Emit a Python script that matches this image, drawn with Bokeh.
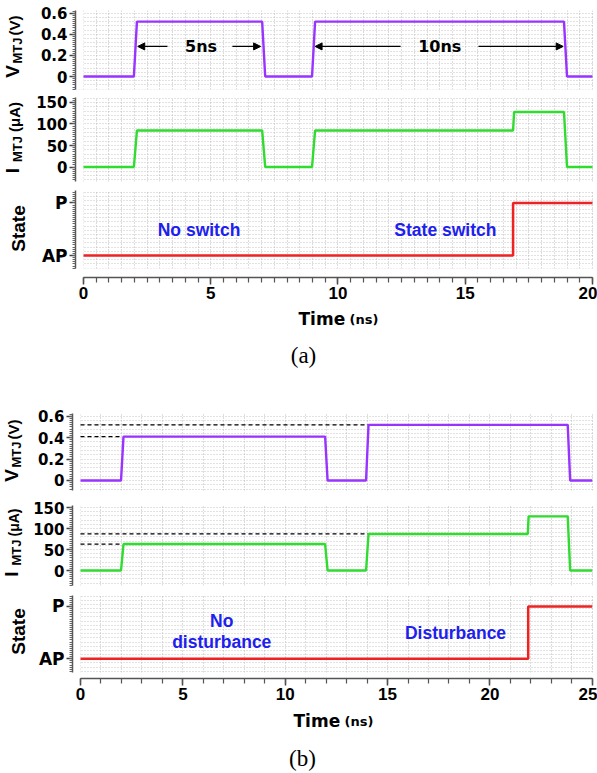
import numpy as np
from bokeh.plotting import figure
from bokeh.layouts import column, row
from bokeh.models import (SingleIntervalTicker, FixedTicker, Grid, BoxAnnotation, Label,
                          Arrow, NormalHead, Range1d, ColumnDataSource)
from bokeh.embed import file_html
from bokeh.resources import INLINE

# ---------------- data: panel (a) ----------------
ta_v = [0, 1.98, 2.10, 7.02, 7.14, 8.98, 9.10, 18.88, 19.00, 20]
va = [0, 0, 0.52, 0.52, 0, 0, 0.52, 0.52, 0, 0]
ta_i = [0, 1.98, 2.10, 7.02, 7.14, 8.98, 9.10, 16.88, 16.92, 18.88, 19.00, 20]
ia = [0, 0, 85, 85, 0, 0, 85, 85, 128, 128, 0, 0]
ta_s = [0, 16.88, 16.88, 20]
sa = [0, 0, 1, 1]

# ---------------- data: panel (b) ----------------
tb_v = [0, 1.98, 2.10, 11.95, 12.07, 13.95, 14.07, 23.80, 23.92, 25]
vb = [0, 0, 0.41, 0.41, 0, 0, 0.52, 0.52, 0, 0]
tb_i = [0, 1.98, 2.10, 11.95, 12.07, 13.95, 14.07, 21.85, 21.89, 23.80, 23.92, 25]
ib = [0, 0, 63, 63, 0, 0, 87, 87, 129, 129, 0, 0]
tb_s = [0, 21.87, 21.87, 25]
sb = [0, 0, 1, 1]

# reference (dashed) levels in (b): end times and levels
dash_t_end = [2.04, 14.07]
dash_v = [0.41, 0.52]
dash_i = [63, 87]

# pulse-width arrows in (a)
arr_x0 = [3.30, 5.85, 12.46, 15.52]
arr_x1 = [2.13, 6.96, 9.10, 18.85]
arr_y = 0.285
arr_text = ["5ns", "10ns"]
arr_text_x = [4.62, 14.0]

state_labels = {0: "AP", 1: "P"}

PURPLE = "#9933ff"
GREEN = "#2fdc2f"
RED = "#ee2222"
BLUE = "#2020ee"
BOLD_SANS = "Liberation Sans"
WIDE_SANS = "DejaVu Sans"


def base_fig(xr, yr, fw, fh, left, top, bottom, show_x):
    p = figure(x_range=Range1d(*xr), y_range=Range1d(*yr), frame_width=fw, frame_height=fh,
               min_border_left=left, min_border_right=4, min_border_top=top,
               min_border_bottom=bottom, toolbar_location=None, output_backend="svg",
               x_axis_location="below" if show_x else None, outline_line_color=None,
               background_fill_color="white", border_fill_color="white")
    p.grid.visible = False
    return p


def blank_fig(w, h, top=0, bottom=0):
    # plain pixel canvas: x from left, y from frame bottom
    f = figure(frame_width=w, frame_height=h, min_border_left=0, min_border_right=0,
               min_border_top=top, min_border_bottom=bottom, toolbar_location=None,
               output_backend="svg", x_axis_location=None, y_axis_location=None,
               x_range=Range1d(0, w), y_range=Range1d(0, h),
               outline_line_color=None, background_fill_color="white",
               border_fill_color="white")
    f.grid.visible = False
    return f


def add_grid(p, xint, yint, ybot=None):
    p.add_layout(Grid(dimension=0, ticker=SingleIntervalTicker(interval=xint),
                      grid_line_color="#aaaaaa", grid_line_dash="1 2", grid_line_width=1,
                      grid_line_alpha=0.8))
    p.add_layout(Grid(dimension=1, ticker=SingleIntervalTicker(interval=yint),
                      grid_line_color="#b8b8b8", grid_line_dash="1 2", grid_line_width=1,
                      grid_line_alpha=0.8))
    p.add_layout(BoxAnnotation(right=0, fill_color="white", fill_alpha=1.0,
                               line_alpha=0, level="underlay"))
    if ybot is not None:
        p.add_layout(BoxAnnotation(top=ybot, fill_color="white", fill_alpha=1.0,
                                   line_alpha=0, level="underlay"))


def style_yaxis(p, ticker, font=WIDE_SANS, size="15px", bounds=None):
    ax = p.yaxis[0]
    ax.ticker = ticker
    ax.axis_line_color = "#555555"
    ax.axis_line_width = 1.5
    ax.major_tick_out = 6
    ax.major_tick_in = 0
    ax.minor_tick_out = 3
    ax.minor_tick_in = 0
    ax.major_tick_line_color = "#444444"
    ax.major_tick_line_width = 1.5
    ax.minor_tick_line_color = "#666666"
    ax.major_label_standoff = 2
    ax.major_label_text_font = font
    ax.major_label_text_font_style = "bold"
    ax.major_label_text_font_size = size
    ax.major_label_text_color = "black"
    if bounds is not None:
        ax.bounds = bounds


def style_xaxis(p, ticker, bounds):
    ax = p.xaxis[0]
    ax.ticker = ticker
    ax.bounds = bounds
    ax.axis_line_color = "#555555"
    ax.axis_line_width = 1.5
    ax.major_tick_out = 7
    ax.major_tick_in = 0
    ax.minor_tick_out = 5
    ax.minor_tick_in = 0
    ax.major_tick_line_color = "#444444"
    ax.major_tick_line_width = 1.5
    ax.minor_tick_line_color = "#555555"
    ax.minor_tick_line_width = 1.2
    ax.major_label_standoff = 2
    ax.major_label_text_font = BOLD_SANS
    ax.major_label_text_font_style = "bold"
    ax.major_label_text_font_size = "17px"
    ax.major_label_text_color = "black"


def rot_label(f, text, x, y, size):
    f.add_layout(Label(x=x, y=y, text=text, angle=np.pi / 2, text_align="center",
                       text_baseline="middle", text_font=BOLD_SANS,
                       text_font_style="bold", text_font_size=size, text_color="black"))


def title_fig(fh, top, bottom, big, unit, unit_size, xs, ys):
    # same vertical borders as the plot next to it, so that the frames line up
    f = blank_fig(30, fh, top, bottom)
    rot_label(f, big, xs[0], ys[0], "19px")
    rot_label(f, "MTJ", xs[1], ys[1], "13px")
    rot_label(f, unit, xs[2], ys[2], unit_size)
    return f


def state_fig(fh, top, bottom, x, y):
    f = blank_fig(30, fh, top, bottom)
    rot_label(f, "State", x, y, "19px")
    return f


def caption_fig(h, x, y_top, tag, tagx, tag_top):
    f = blank_fig(597, h)
    f.add_layout(Label(x=x, y=h - y_top, text="Time", text_align="left",
                       text_baseline="middle", text_font=WIDE_SANS,
                       text_font_style="bold", text_font_size="17px", text_color="black"))
    f.add_layout(Label(x=x + 51, y=h - y_top - 1, text="(ns)", text_align="left",
                       text_baseline="middle", text_font=WIDE_SANS,
                       text_font_style="bold", text_font_size="13px", text_color="black"))
    f.add_layout(Label(x=tagx, y=h - tag_top, text=tag, text_align="center",
                       text_baseline="middle", text_font="Liberation Serif",
                       text_font_size="23px", text_color="black"))
    return f


def blue_text(p, x, y, text):
    p.add_layout(Label(x=x, y=y, text=text, text_align="center", text_baseline="middle",
                       text_font=BOLD_SANS, text_font_style="bold", text_font_size="17.5px",
                       text_color=BLUE))


def sep(color):
    s = figure(frame_width=592, frame_height=2, min_border=0, toolbar_location=None,
               output_backend="svg", x_axis_location=None, y_axis_location=None,
               outline_line_color=None, background_fill_color=color, border_fill_color=color)
    s.grid.visible = False
    return s


# ---------------- panel (a) ----------------
XA = (-0.3143, 20.04)
va_fig = base_fig(XA, (-0.1232, 0.6256), 518, 79, 45, 10, 2, False)
add_grid(va_fig, 0.5, 0.04)
style_yaxis(va_fig, SingleIntervalTicker(interval=0.2, num_minor_ticks=10))
va_fig.line(ta_v, va, line_color=PURPLE, line_width=2.4)
src = ColumnDataSource(dict(x0=arr_x0, x1=arr_x1, y=[arr_y] * len(arr_x0)))
va_fig.add_layout(Arrow(end=NormalHead(size=7, fill_color="black", line_color="black"),
                        source=src, x_start="x0", y_start="y", x_end="x1", y_end="y",
                        line_color="black", line_width=1.2))
for t, x in zip(arr_text, arr_text_x):
    va_fig.add_layout(Label(x=x, y=arr_y, text=t, text_align="center", text_baseline="middle",
                            text_font=WIDE_SANS, text_font_style="bold", text_font_size="16px",
                            text_color="black"))
row_va = row(title_fig(79, 10, 2, "V", "(V)", "15px", [12.3, 16.5, 14.1], [18, 39, 64]),
             va_fig)

ia_fig = base_fig(XA, (-33.7, 161.6), 518, 84, 45, 4, 2, False)
add_grid(ia_fig, 0.5, 10)
style_yaxis(ia_fig, SingleIntervalTicker(interval=50, num_minor_ticks=10))
ia_fig.line(ta_i, ia, line_color=GREEN, line_width=2.4)
row_ia = row(title_fig(84, 4, 2, "I", "(μA)", "15px", [12.3, 16.5, 14.1], [11, 32.5, 64.5]),
             ia_fig)

sa_fig = base_fig(XA, (-0.419, 1.238), 518, 87, 45, 5, 30, True)
add_grid(sa_fig, 0.5, 0.08, ybot=-0.248)
style_yaxis(sa_fig, FixedTicker(ticks=[0, 1], minor_ticks=list(np.arange(-0.24, 1.24, 0.04))),
            size="17px", bounds=(-0.248, 1.238))
sa_fig.yaxis[0].major_label_overrides = state_labels
style_xaxis(sa_fig, SingleIntervalTicker(interval=5, num_minor_ticks=10), (0, 20))
sa_fig.line(ta_s, sa, line_color=RED, line_width=2.5)
blue_text(sa_fig, 4.54, 0.49, "No switch")
blue_text(sa_fig, 14.22, 0.495, "State switch")
row_sa = row(state_fig(87, 5, 30, 18.3, 49), sa_fig)

cap_a = caption_fig(68, 298, 11, "(a)", 303, 48)

# ---------------- panel (b) ----------------
XB = (-0.3908, 25.06)
vb_fig = base_fig(XB, (-0.0935, 0.626), 521, 77, 42, 38, 4, False)
add_grid(vb_fig, 1, 0.04)
style_yaxis(vb_fig, SingleIntervalTicker(interval=0.2, num_minor_ticks=10))
for te, lv in zip(dash_t_end, dash_v):
    vb_fig.line([0, te], [lv, lv], line_color="black", line_width=1.3, line_dash="4 3")
vb_fig.line(tb_v, vb, line_color=PURPLE, line_width=2.4)
row_vb = row(title_fig(77, 38, 4, "V", "(V)", "15px", [11.3, 15.5, 13.1], [15, 36, 61]),
             vb_fig)

ib_fig = base_fig(XB, (-35.7, 154.8), 521, 80, 42, 9, 2, False)
add_grid(ib_fig, 1, 10)
style_yaxis(ib_fig, SingleIntervalTicker(interval=50, num_minor_ticks=10))
for te, lv in zip(dash_t_end, dash_i):
    ib_fig.line([0, te], [lv, lv], line_color="black", line_width=1.3, line_dash="4 3")
ib_fig.line(tb_i, ib, line_color=GREEN, line_width=2.4)
row_ib = row(title_fig(80, 9, 2, "I", "(μA)", "14px", [11.3, 15.5, 13.1], [11.5, 33, 63]),
             ib_fig)

sb_fig = base_fig(XB, (-0.377, 1.21), 521, 83, 42, 6, 30, True)
add_grid(sb_fig, 1, 0.08, ybot=-0.262)
style_yaxis(sb_fig, FixedTicker(ticks=[0, 1], minor_ticks=list(np.arange(-0.24, 1.21, 0.04))),
            size="17px", bounds=(-0.262, 1.21))
sb_fig.yaxis[0].major_label_overrides = state_labels
style_xaxis(sb_fig, SingleIntervalTicker(interval=5, num_minor_ticks=5), (0, 25))
sb_fig.line(tb_s, sb, line_color=RED, line_width=2.5)
blue_text(sb_fig, 6.9, 0.73, "No")
blue_text(sb_fig, 6.9, 0.33, "disturbance")
blue_text(sb_fig, 18.32, 0.50, "Disturbance")
row_sb = row(state_fig(83, 6, 30, 18.3, 47), sb_fig)

cap_b = caption_fig(65, 293, 12, "(b)", 302, 50)

layout = column(row_va, sep("black"), row_ia, sep("black"), row_sa, cap_a,
                row_vb, sep("#666666"), row_ib, sep("#666666"), row_sb, cap_b, spacing=0)

open("out.html", "w").write(file_html(layout, INLINE))
